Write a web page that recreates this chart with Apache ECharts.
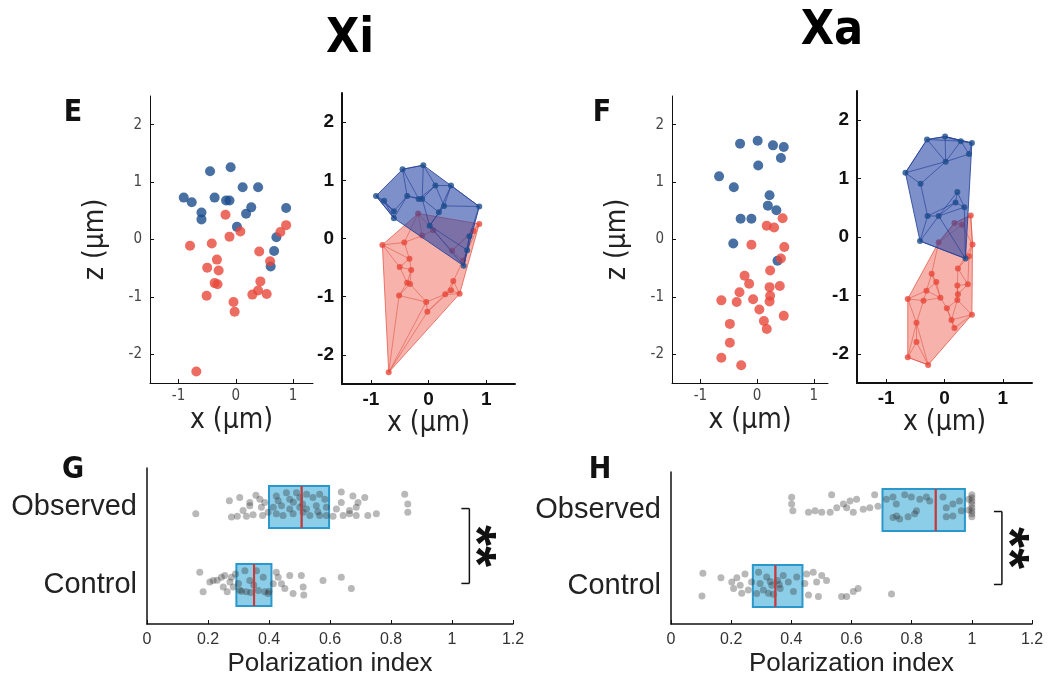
<!DOCTYPE html>
<html>
<head>
<meta charset="utf-8">
<script src="https://cdn.jsdelivr.net/npm/echarts@6/dist/echarts.min.js"></script>
<style>
  html, body { margin: 0; background: #fff; }
  #chart { width: 1053px; height: 678px; }
</style>
</head>
<body>
<div id="chart"></div>
<script>
// E (Xi) and F (Xa): chromosome positions, [x, z] in µm
const eBlue = [[-0.45, 1.19], [-0.09, 1.26], [0.12, 0.91], [0.39, 0.91], [-0.91, 0.73], [-0.77, 0.65],
  [-0.37, 0.73], [-0.17, 0.68], [-0.11, 0.68], [0.27, 0.56], [0.18, 0.45], [0.88, 0.55], [-0.60, 0.47],
  [-0.60, 0.35], [0.02, 0.22], [0.71, 0.04], [0.67, -0.20], [0.61, -0.47]]
const eRed = [[-0.18, 0.43], [0.08, 0.14], [-0.11, 0.05], [0.88, 0.25], [0.78, 0.13], [-0.80, -0.11],
  [-0.42, -0.07], [-0.33, -0.35], [-0.50, -0.49], [-0.30, -0.54], [0.41, -0.21], [0.60, -0.38],
  [-0.37, -0.76], [-0.32, -0.78], [0.43, -0.73], [0.39, -0.89], [0.29, -0.96], [0.54, -0.95],
  [-0.51, -0.98], [-0.04, -1.09], [-0.02, -1.26], [-0.69, -2.30]]
const fBlue = [[-0.30, 1.67], [0.01, 1.72], [0.28, 1.64], [0.47, 1.61], [0.42, 1.42], [0.02, 1.29],
  [-0.67, 1.10], [-0.41, 0.91], [0.22, 0.77], [0.19, 0.59], [0.34, 0.51], [-0.29, 0.36], [-0.10, 0.36],
  [-0.42, -0.07], [0.36, -0.37]]
const fRed = [[0.45, 0.37], [0.17, 0.24], [0.30, 0.21], [-0.10, -0.09], [0.48, -0.13], [0.42, -0.33],
  [0.23, -0.54], [-0.22, -0.63], [-0.14, -0.77], [0.22, -0.83], [0.40, -0.81], [-0.31, -0.92],
  [0.23, -0.98], [0.22, -1.08], [-0.63, -1.06], [-0.36, -1.09], [-0.07, -1.04], [0.04, -1.22],
  [0.47, -1.33], [0.12, -1.42], [0.17, -1.56], [-0.48, -1.47], [-0.48, -1.80], [-0.63, -2.06], [-0.28, -2.19]]
const zTicks = [-2, -1, 0, 1, 2]
const xTicks = [-1, 0, 1]

// G (Xi) and H (Xa): polarization index
const groups = ['Control', 'Observed']
// [q1, median, q3] per group
const gBox = [[0.293, 0.351, 0.408], [0.400, 0.507, 0.597]]
const hBox = [[0.272, 0.347, 0.437], [0.703, 0.880, 0.977]]
// dots: [index, jitter position]; 0..1 is the Control band, 1..2 the Observed band
const gObserved = [[0.270, 1.579], [0.304, 1.621], [0.337, 1.558], [0.357, 1.650], [0.370, 1.600], [0.386, 1.558],
  [0.424, 1.642], [0.457, 1.683], [0.468, 1.600], [0.490, 1.683], [0.501, 1.621], [0.523, 1.663], [0.544, 1.621],
  [0.566, 1.663], [0.583, 1.600], [0.637, 1.692], [0.637, 1.558], [0.675, 1.642], [0.692, 1.558], [0.714, 1.621],
  [0.845, 1.663], [0.855, 1.538], [0.315, 1.454], [0.337, 1.517], [0.375, 1.496], [0.414, 1.496], [0.441, 1.517],
  [0.468, 1.475], [0.501, 1.496], [0.523, 1.475], [0.555, 1.517], [0.588, 1.496], [0.621, 1.475], [0.664, 1.454],
  [0.686, 1.496], [0.160, 1.413], [0.277, 1.371], [0.296, 1.383], [0.326, 1.383], [0.348, 1.400], [0.379, 1.392],
  [0.397, 1.433], [0.424, 1.413], [0.446, 1.392], [0.479, 1.413], [0.512, 1.433], [0.534, 1.392], [0.566, 1.392],
  [0.588, 1.392], [0.610, 1.383], [0.643, 1.392], [0.664, 1.413], [0.686, 1.392], [0.724, 1.392], [0.752, 1.413],
  [0.855, 1.433], [0.480, 1.560], [0.510, 1.540], [0.430, 1.580], [0.560, 1.440]]
const gControl = [[0.173, 0.663], [0.206, 0.538], [0.217, 0.558], [0.244, 0.600], [0.255, 0.621], [0.277, 0.600],
  [0.272, 0.538], [0.283, 0.475], [0.250, 0.475], [0.184, 0.413], [0.263, 0.413], [0.304, 0.433], [0.326, 0.413],
  [0.321, 0.683], [0.337, 0.558], [0.359, 0.683], [0.381, 0.600], [0.386, 0.413], [0.397, 0.392], [0.424, 0.663],
  [0.430, 0.600], [0.441, 0.517], [0.452, 0.454], [0.468, 0.621], [0.479, 0.392], [0.506, 0.621], [0.512, 0.475],
  [0.514, 0.371], [0.577, 0.558], [0.637, 0.600], [0.670, 0.454], [0.310, 0.420], [0.340, 0.405], [0.365, 0.430],
  [0.400, 0.420], [0.414, 0.517], [0.300, 0.520], [0.350, 0.500], [0.230, 0.560], [0.290, 0.640]]
const hObserved = [[0.401, 1.667], [0.401, 1.580], [0.405, 1.490], [0.457, 1.470], [0.479, 1.490], [0.501, 1.470],
  [0.534, 1.700], [0.529, 1.470], [0.551, 1.530], [0.573, 1.580], [0.595, 1.620], [0.584, 1.530], [0.617, 1.640],
  [0.606, 1.470], [0.639, 1.510], [0.661, 1.530], [0.677, 1.700], [0.688, 1.550], [0.716, 1.640], [0.738, 1.670],
  [0.749, 1.580], [0.777, 1.700], [0.799, 1.670], [0.816, 1.490], [0.827, 1.640], [0.849, 1.670], [0.760, 1.380],
  [0.788, 1.410], [0.810, 1.450], [0.860, 1.620], [0.904, 1.670], [0.915, 1.530], [0.937, 1.580], [0.959, 1.620],
  [0.937, 1.420], [0.915, 1.410], [0.965, 1.490], [0.738, 1.400], [0.750, 1.420], [1.0, 1.700], [1.0, 1.660],
  [1.0, 1.620], [1.0, 1.580], [1.0, 1.530], [1.0, 1.490], [1.0, 1.450], [1.0, 1.410], [0.990, 1.640], [0.990, 1.500]]
const hControl = [[0.106, 0.668], [0.103, 0.370], [0.166, 0.608], [0.202, 0.553], [0.208, 0.468], [0.219, 0.608],
  [0.230, 0.511], [0.235, 0.404], [0.246, 0.659], [0.257, 0.447], [0.268, 0.553], [0.291, 0.681], [0.296, 0.532],
  [0.307, 0.447], [0.318, 0.617], [0.324, 0.404], [0.335, 0.511], [0.354, 0.574], [0.363, 0.468], [0.373, 0.638],
  [0.390, 0.553], [0.407, 0.426], [0.418, 0.617], [0.445, 0.532], [0.451, 0.659], [0.457, 0.383], [0.473, 0.681],
  [0.484, 0.553], [0.490, 0.362], [0.501, 0.638], [0.517, 0.574], [0.567, 0.362], [0.584, 0.362], [0.606, 0.426],
  [0.622, 0.468], [0.733, 0.396], [0.285, 0.400], [0.340, 0.390], [0.330, 0.560], [0.360, 0.520]]
// significance bracket: x position of the bar
const gBracketX = 1.057
const hBracketX = 1.10

const narrow = "'Liberation Sans Narrow', 'DejaVu Sans Condensed', sans-serif"
const sans = "'Liberation Sans', Arial, sans-serif"
const blue = '#1b4c8c'
const red = '#e8473a'

function hull(pts) {
  const p = pts.slice().sort((a, b) => a[0] - b[0] || a[1] - b[1])
  const cross = (o, a, b) => (a[0] - o[0]) * (b[1] - o[1]) - (a[1] - o[1]) * (b[0] - o[0])
  const lo = []
  const up = []
  for (const q of p) {
    while (lo.length >= 2 && cross(lo[lo.length - 2], lo[lo.length - 1], q) <= 0) lo.pop()
    lo.push(q)
  }
  for (let i = p.length - 1; i >= 0; i--) {
    const q = p[i]
    while (up.length >= 2 && cross(up[up.length - 2], up[up.length - 1], q) <= 0) up.pop()
    up.push(q)
  }
  return lo.slice(0, -1).concat(up.slice(0, -1))
}

// mesh lines: every point joined to its 3 nearest neighbours
function meshEdges(pts, k) {
  const seen = {}
  const out = []
  pts.forEach((a, i) => {
    const near = pts.map((b, j) => [j, Math.hypot(a[0] - b[0], a[1] - b[1])])
      .filter(d => d[0] !== i).sort((x, y) => x[1] - y[1]).slice(0, k)
    near.forEach(([j]) => {
      const key = Math.min(i, j) + '-' + Math.max(i, j)
      if (!seen[key]) { seen[key] = 1; out.push([a, pts[j]]) }
    })
  })
  return out
}

function cellShape(pts, fill, stroke) {
  return function (params, api) {
    const children = [{
      type: 'polygon',
      shape: { points: hull(pts).map(p => api.coord(p)) },
      style: { fill: fill, stroke: stroke, lineWidth: 1 }
    }]
    meshEdges(pts, 3).forEach(([a, b]) => {
      const p1 = api.coord(a)
      const p2 = api.coord(b)
      children.push({
        type: 'line',
        shape: { x1: p1[0], y1: p1[1], x2: p2[0], y2: p2[1] },
        style: { stroke: stroke, lineWidth: 0.8 }
      })
    })
    return { type: 'group', children: children }
  }
}

function medianLine(params, api) {
  const c = api.coord([api.value(0), api.value(1)])
  return {
    type: 'line',
    shape: { x1: c[0], y1: c[1] - 21, x2: c[0], y2: c[1] + 21 },
    style: { stroke: '#e0302a', lineWidth: 2 }
  }
}

function bracket(params, api) {
  const top = api.coord([api.value(0), 1.48])
  const bot = api.coord([api.value(0), 0.52])
  const st = { stroke: '#111', lineWidth: 1.5 }
  return {
    type: 'group',
    children: [
      { type: 'line', shape: { x1: top[0], y1: top[1], x2: bot[0], y2: bot[1] }, style: st },
      { type: 'line', shape: { x1: top[0] - 8, y1: top[1], x2: top[0], y2: top[1] }, style: st },
      { type: 'line', shape: { x1: bot[0] - 8, y1: bot[1], x2: bot[0], y2: bot[1] }, style: st },
      {
        type: 'text', x: top[0] + 5, y: (top[1] + bot[1]) / 2, rotation: -Math.PI / 2,
        style: { text: '**', font: 'bold 54px ' + sans, fill: '#111', align: 'center', verticalAlign: 'middle' }
      }
    ]
  }
}

function posX(gridIndex, min, max, bold, named) {
  return {
    type: 'value', gridIndex: gridIndex, min: min, max: max,
    name: named ? 'x (µm)' : '', nameLocation: 'middle', nameGap: 24,
    nameTextStyle: { fontSize: 28, color: '#222', fontFamily: narrow },
    axisLine: { show: true, onZero: false, lineStyle: { color: '#111', width: bold ? 2 : 1 } },
    axisTick: { show: true, inside: true, length: 4, customValues: xTicks, lineStyle: { color: '#111' } },
    axisLabel: {
      customValues: xTicks, margin: 6, color: bold ? '#111' : '#444',
      fontSize: bold ? 19 : 15, fontWeight: bold ? 'bold' : 'normal', fontFamily: bold ? sans : narrow
    },
    splitLine: { show: false }
  }
}

function posZ(gridIndex, bold) {
  return {
    type: 'value', gridIndex: gridIndex, min: -2.5, max: 2.5,
    name: bold ? '' : 'z (µm)', nameLocation: 'middle', nameGap: 40, nameRotate: 90,
    nameTextStyle: { fontSize: 28, color: '#222', fontFamily: narrow },
    axisLine: { show: true, onZero: false, lineStyle: { color: '#111', width: bold ? 2 : 1 } },
    axisTick: { show: true, inside: true, length: 4, customValues: zTicks, lineStyle: { color: '#111' } },
    axisLabel: {
      customValues: zTicks, margin: 8, color: bold ? '#111' : '#444',
      fontSize: bold ? 19 : 15, fontWeight: bold ? 'bold' : 'normal', fontFamily: bold ? sans : narrow
    },
    splitLine: { show: false }
  }
}

function indexX(gridIndex) {
  return {
    type: 'value', gridIndex: gridIndex, min: 0, max: 1.2, interval: 0.2,
    name: 'Polarization index', nameLocation: 'middle', nameGap: 27,
    nameTextStyle: { fontSize: 26, color: '#222', fontFamily: sans },
    axisLine: { show: true, onZero: false, lineStyle: { color: '#111', width: 1.5 } },
    axisTick: { show: true, inside: true, length: 4, lineStyle: { color: '#111' } },
    axisLabel: { fontSize: 16, color: '#333', fontFamily: sans, margin: 8 },
    splitLine: { show: false }
  }
}

function groupY(gridIndex) {
  return {
    type: 'category', gridIndex: gridIndex, data: groups,
    axisLine: { show: true, lineStyle: { color: '#111', width: 1.5 } },
    axisTick: { show: false },
    axisLabel: { fontSize: 29, color: '#222', fontFamily: sans, margin: 10 }
  }
}

function jitterY(gridIndex) {
  return { type: 'value', gridIndex: gridIndex, min: 0, max: 2, show: false }
}

function pts(data, xi, yi, color, size, z) {
  return {
    type: 'scatter', xAxisIndex: xi, yAxisIndex: yi, data: data, symbolSize: size, z: z,
    itemStyle: { color: color }, silent: true
  }
}

function dots(data, xi, yi) {
  return {
    type: 'scatter', xAxisIndex: xi, yAxisIndex: yi, data: data, symbolSize: 7, z: 4,
    itemStyle: { color: 'rgba(45,45,45,0.42)' }, silent: true
  }
}

function boxes(box, xi, yi) {
  return {
    type: 'boxplot', xAxisIndex: xi, yAxisIndex: yi, boxWidth: [42, 42], z: 2, silent: true,
    data: box.map(b => [b[0], b[0], b[1], b[2], b[2]]),
    itemStyle: { color: 'rgba(120,198,228,0.85)', borderColor: '#2a98cc', borderWidth: 2 }
  }
}

const chart = echarts.init(document.getElementById('chart'))
chart.setOption({
  backgroundColor: '#fff',
  animation: false,
  grid: [
    { left: 150, top: 96, width: 163, height: 287 },
    { left: 342, top: 93, width: 173, height: 291 },
    { left: 672, top: 96, width: 156, height: 287 },
    { left: 857, top: 91, width: 175, height: 292 },
    { left: 147, top: 468, width: 366, height: 160 },
    { left: 671, top: 472, width: 361, height: 156 }
  ],
  xAxis: [
    posX(0, -1.5, 1.35, false, true),
    posX(1, -1.5, 1.5, true, true),
    posX(2, -1.5, 1.25, false, true),
    posX(3, -1.5, 1.5, true, true),
    indexX(4),
    indexX(5)
  ],
  yAxis: [
    posZ(0, false), posZ(1, true), posZ(2, false), posZ(3, true),
    groupY(4), jitterY(4), groupY(5), jitterY(5)
  ],
  graphic: [
    { type: 'text', x: 350, y: 40, style: { text: 'Xi', font: 'bold 48px ' + narrow, fill: '#000', align: 'center', verticalAlign: 'middle' } },
    { type: 'text', x: 832, y: 32, style: { text: 'Xa', font: 'bold 48px ' + narrow, fill: '#000', align: 'center', verticalAlign: 'middle' } },
    { type: 'text', x: 73, y: 113, style: { text: 'E', font: 'bold 30px ' + narrow, fill: '#111', align: 'center', verticalAlign: 'middle' } },
    { type: 'text', x: 602, y: 113, style: { text: 'F', font: 'bold 30px ' + narrow, fill: '#111', align: 'center', verticalAlign: 'middle' } },
    { type: 'text', x: 73, y: 470, style: { text: 'G', font: 'bold 30px ' + narrow, fill: '#111', align: 'center', verticalAlign: 'middle' } },
    { type: 'text', x: 600, y: 470, style: { text: 'H', font: 'bold 30px ' + narrow, fill: '#111', align: 'center', verticalAlign: 'middle' } }
  ],
  series: [
    pts(eBlue, 0, 0, blue, 10, 3),
    pts(eRed, 0, 0, red, 10, 3),
    { type: 'custom', xAxisIndex: 1, yAxisIndex: 1, data: [[0, 0]], z: 1, silent: true,
      renderItem: cellShape(eRed, 'rgba(238,95,80,0.48)', 'rgba(225,85,70,0.75)') },
    pts(eRed, 1, 1, red, 6, 2),
    { type: 'custom', xAxisIndex: 1, yAxisIndex: 1, data: [[0, 0]], z: 3, silent: true,
      renderItem: cellShape(eBlue, 'rgba(40,70,165,0.6)', 'rgba(30,60,150,0.8)') },
    pts(eBlue, 1, 1, blue, 6, 4),
    pts(fBlue, 2, 2, blue, 10, 3),
    pts(fRed, 2, 2, red, 10, 3),
    { type: 'custom', xAxisIndex: 3, yAxisIndex: 3, data: [[0, 0]], z: 1, silent: true,
      renderItem: cellShape(fRed, 'rgba(238,95,80,0.48)', 'rgba(225,85,70,0.75)') },
    pts(fRed, 3, 3, red, 6, 2),
    { type: 'custom', xAxisIndex: 3, yAxisIndex: 3, data: [[0, 0]], z: 3, silent: true,
      renderItem: cellShape(fBlue, 'rgba(40,70,165,0.6)', 'rgba(30,60,150,0.8)') },
    pts(fBlue, 3, 3, blue, 6, 4),

    boxes(gBox, 4, 4),
    dots(gObserved, 4, 5),
    dots(gControl, 4, 5),
    { type: 'custom', xAxisIndex: 4, yAxisIndex: 5, z: 5, silent: true,
      data: gBox.map((b, i) => [b[1], i + 0.5]), renderItem: medianLine },
    { type: 'custom', xAxisIndex: 4, yAxisIndex: 5, z: 5, silent: true,
      data: [[gBracketX, 1]], renderItem: bracket },

    boxes(hBox, 5, 6),
    dots(hObserved, 5, 7),
    dots(hControl, 5, 7),
    { type: 'custom', xAxisIndex: 5, yAxisIndex: 7, z: 5, silent: true,
      data: hBox.map((b, i) => [b[1], i + 0.5]), renderItem: medianLine },
    { type: 'custom', xAxisIndex: 5, yAxisIndex: 7, z: 5, silent: true,
      data: [[hBracketX, 1]], renderItem: bracket }
  ]
})
</script>
</body>
</html>
